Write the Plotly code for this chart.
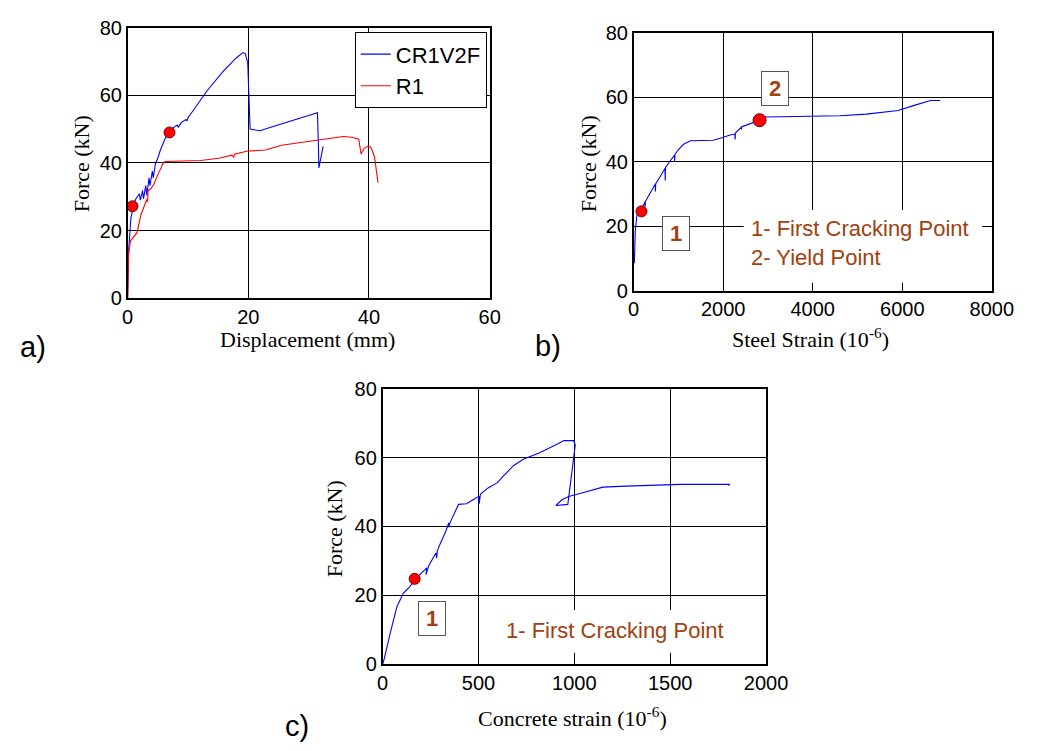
import plotly.graph_objects as go

W, H = 1043, 751

# ---- Panel a: force vs displacement ----
cr1v2f_disp = [0, 0.16, 0.54, 0.7, 0.9, 1.4, 1.94, 2.1, 2.47, 2.63, 3.0, 3.17, 3.55, 3.7,
               4.09, 4.25, 4.62, 4.9, 5.43, 5.97, 6.5, 6.94, 7.26, 8.2, 8.4, 8.87, 9.68,
               9.84, 10.05, 10.75, 12.4, 13.2, 15.9, 18.0, 19.1, 19.5, 19.9, 20.05, 20.3,
               21.2, 22.0, 22.8, 29.8, 31.45, 31.6, 31.7, 32.4]
cr1v2f_force = [0.3, 14, 23.8, 25, 27.5, 29.5, 30.9, 29.0, 31.8, 29.4, 33.3, 30.4, 35.6, 33.3,
                37.6, 35.6, 40, 40.9, 43.8, 46.2, 48.4, 49, 50, 51.2, 50.5, 51.9, 52.8,
                52.4, 53.5, 55.2, 59.5, 61.4, 67.2, 71.0, 72.6, 72.3, 69.6, 61, 50,
                49.7, 49.5, 50, 53.8, 54.8, 46.6, 38.5, 44.9]
r1_disp = [0, 0.16, 0.48, 1.13, 1.56, 2.2, 2.74, 3.17, 3.3, 3.39, 3.8, 4.35, 4.9, 5.4, 5.86,
           6.2, 12.1, 15.1, 17.3, 17.6, 17.7, 19.9, 22.85, 25.5, 31.45, 35.75, 37.1, 37.9,
           38.3, 38.7, 39.2, 39.8, 40.3, 40.9, 41.5]
r1_force = [0, 13.2, 17, 18.4, 19.4, 24.7, 27.5, 29.2, 28.5, 31.8, 32.3, 33.7, 36.1, 38.0, 39.8,
            40.4, 40.7, 41.4, 42.3, 41.6, 42.6, 43.5, 43.8, 45.2, 46.8, 47.8, 47.6, 47.1,
            47.0, 42.6, 44.3, 44.9, 44.7, 41.9, 34.2]
a_pts_disp = [0.8, 6.94]
a_pts_force = [27.2, 49.0]

# ---- Panel b: force vs steel strain ----
steel_strain = [15, 22, 36, 72, 120, 170, 250, 255, 262, 350, 480, 485, 492, 600, 700, 705,
                712, 800, 910, 915, 922, 1000, 1123, 1268, 1500, 1775, 1993, 2150, 2260,
                2265, 2272, 2400, 2405, 2412, 2500, 2717, 2812, 2935, 3500, 4602, 5200,
                5906, 6268, 6630, 6848]
steel_force = [8.5, 14, 18.5, 23.5, 24.3, 24.9, 27.5, 26.0, 27.7, 29.8, 33.0, 30.8, 33.2, 35.6,
               38.0, 34.2, 38.2, 40.0, 42.0, 40.1, 42.3, 43.8, 45.5, 46.5, 46.6, 46.7, 47.5,
               48.3, 48.6, 46.9, 48.9, 50.7, 50.0, 50.9, 51.3, 52.5, 52.9, 53.9, 54.1, 54.3,
               54.8, 55.9, 57.5, 59.0, 59.0]
b_pts_strain = [174, 2812]
b_pts_force = [24.6, 52.9]

# ---- Panel c: force vs concrete strain ----
concrete_strain = [0, 7, 41, 75, 108, 142, 171, 210, 230, 226, 240, 278, 282, 285, 294, 328,
                   345, 343, 354, 396, 438, 489, 503, 504, 510, 548, 599, 633, 684, 734, 819,
                   904, 946, 996, 1005, 966, 904, 937, 971, 1039, 1107, 1149, 1267, 1403,
                   1555, 1809, 1805]
concrete_force = [0, 1.3, 9.3, 16.8, 20.6, 22.5, 24.8, 27.1, 28.0, 26.0, 28.5, 32.3, 30.8, 32.8,
                  34.2, 38.4, 41.0, 39.8, 41.4, 46.4, 46.6, 48.3, 48.8, 46.6, 49.3, 51.1, 52.7,
                  54.8, 57.7, 59.5, 61.4, 63.7, 64.9, 64.9, 63.7, 46.4, 46.1, 47.8, 48.7, 49.7,
                  50.8, 51.4, 51.7, 52.0, 52.2, 52.2, 51.8]
c_pts_strain = [167]
c_pts_force = [24.8]

SANS = "Arial, Liberation Sans, sans-serif"
SERIF = "Times New Roman, Liberation Serif, serif"
BROWN = "#A0410F"


def px(x):
    return x / W


def py(y):
    return 1 - y / H


fig = go.Figure()
line_w = 1.1
fig.add_trace(go.Scatter(x=cr1v2f_disp, y=cr1v2f_force, mode="lines", name="CR1V2F",
                         line=dict(color="#0000FF", width=line_w), xaxis="x", yaxis="y"))
fig.add_trace(go.Scatter(x=r1_disp, y=r1_force, mode="lines", name="R1",
                         line=dict(color="#FF0000", width=line_w), xaxis="x", yaxis="y"))
marker = dict(color="#FF0000", size=11, opacity=1, line=dict(color="#7A0000", width=1))
fig.add_trace(go.Scatter(x=a_pts_disp, y=a_pts_force, mode="markers", marker=marker,
                         showlegend=False, xaxis="x", yaxis="y"))

fig.add_trace(go.Scatter(x=steel_strain, y=steel_force, mode="lines", showlegend=False,
                         line=dict(color="#0000FF", width=line_w), xaxis="x2", yaxis="y2"))
fig.add_trace(go.Scatter(x=b_pts_strain, y=b_pts_force, mode="markers",
                         marker=dict(color="#FF0000", size=[11, 13], opacity=1,
                                     line=dict(color="#7A0000", width=1)),
                         showlegend=False, xaxis="x2", yaxis="y2"))

fig.add_trace(go.Scatter(x=concrete_strain, y=concrete_force, mode="lines", showlegend=False,
                         line=dict(color="#0000FF", width=line_w), xaxis="x3", yaxis="y3"))
fig.add_trace(go.Scatter(x=c_pts_strain, y=c_pts_force, mode="markers", marker=marker,
                         showlegend=False, xaxis="x3", yaxis="y3"))

axis_common = dict(showline=True, linecolor="black", linewidth=1.5, mirror="allticks",
                   ticks="inside", ticklen=5, tickcolor="black", showgrid=True,
                   gridcolor="black", gridwidth=1, zeroline=False,
                   tickfont=dict(family=SANS, size=20, color="black"))

fig.update_layout(
    width=W, height=H, margin=dict(l=0, r=0, t=0, b=0),
    paper_bgcolor="white", plot_bgcolor="white",
    xaxis=dict(domain=[px(125), px(497)], range=[0, 60], dtick=20, anchor="y", **axis_common),
    yaxis=dict(domain=[py(296), py(17)], range=[0, 80], dtick=20, anchor="x", **axis_common),
    xaxis2=dict(domain=[px(645), px(1013)], range=[0, 8000], dtick=2000, anchor="y2", **axis_common),
    yaxis2=dict(domain=[py(288), py(22.6)], range=[0, 80], dtick=20, anchor="x2", **axis_common),
    xaxis3=dict(domain=[px(387), px(781)], range=[0, 2000], dtick=500, anchor="y3", **axis_common),
    yaxis3=dict(domain=[py(673), py(389)], range=[0, 80], dtick=20, anchor="x3", **axis_common),
    legend=dict(x=px(494), xanchor="right", y=py(22), yanchor="top",
                bgcolor="white", bordercolor="black", borderwidth=1,
                font=dict(family=SANS, size=22, color="black"), tracegroupgap=0),
)

# white backing behind the point notes so grid lines break around them
fig.add_shape(type="rect", xref="paper", yref="paper", x0=px(758), x1=px(1003),
              y0=py(280), y1=py(205), fillcolor="white", line=dict(width=0), layer="above")
fig.add_shape(type="rect", xref="paper", yref="paper", x0=px(505), x1=px(765),
              y0=py(661), y1=py(617), fillcolor="white", line=dict(width=0), layer="above")

ann = []


def text(x, y, s, size, family, color="black", xanchor="center", angle=0, **kw):
    ann.append(dict(x=px(x), y=py(y), xref="paper", yref="paper", text=s, showarrow=False,
                    xanchor=xanchor, yanchor="middle", textangle=angle,
                    font=dict(family=family, size=size, color=color), **kw))


# axis titles
text(310, 338, "Displacement (mm)", 22, SERIF)
text(77, 157, "Force (kN)", 22, SERIF, angle=-90)
text(827, 337, "Steel Strain (10<sup>-6</sup>)", 22, SERIF)
text(598, 157, "Force (kN)", 22, SERIF, angle=-90)
text(582, 727, "Concrete strain (10<sup>-6</sup>)", 22, SERIF)
text(337, 533, "Force (kN)", 22, SERIF, angle=-90)

# panel labels
text(28, 346, "a)", 29, SANS)
text(557, 345, "b)", 29, SANS)
text(299, 737, "c)", 29, SANS)

# numbered point boxes
box = dict(bgcolor="white", bordercolor="#555555", borderwidth=1, borderpad=1, width=24, height=31)
text(790, 80, "<b>2</b>", 22, SANS, BROWN, **box)
text(688, 229, "<b>1</b>", 22, SANS, BROWN, **box)
text(438, 625.5, "<b>1</b>", 22, SANS, BROWN, **box)

# point descriptions
text(764, 239, "1- First Cracking Point<br>2- Yield Point", 22, SANS, BROWN, xanchor="left",
     align="left")
text(512, 638, "1- First Cracking Point", 22, SANS, BROWN, xanchor="left")

fig.update_layout(annotations=ann)
fig.write_html("out.html")
